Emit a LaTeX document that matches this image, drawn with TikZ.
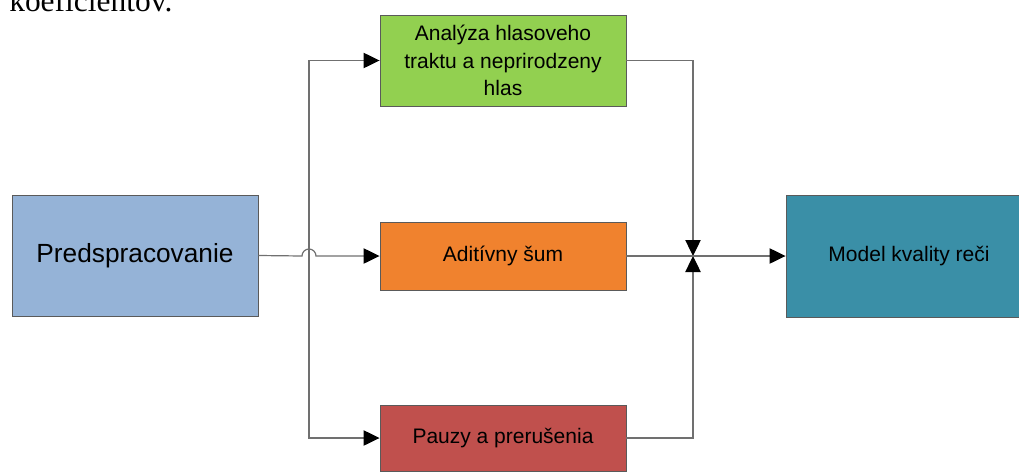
\documentclass[tikz,border=0pt]{standalone}
\usepackage{fontspec}
\setmainfont{Liberation Sans}
\newfontfamily\serifdoc{Liberation Serif}
\usetikzlibrary{arrows.meta}
\definecolor{cblue}{HTML}{95B3D7}
\definecolor{cgreen}{HTML}{92D050}
\definecolor{corange}{HTML}{F0822E}
\definecolor{cred}{HTML}{C0504D}
\definecolor{cteal}{HTML}{3A8FA7}
\definecolor{cborder}{HTML}{5A5A5A}
\definecolor{cline}{HTML}{707070}
\tikzset{
  blk/.style={draw=cborder, line width=0.7pt, inner sep=0pt, align=center,
    minimum width=184.5pt, font=\fontsize{15.75}{20.6}\selectfont},
  conn/.style={draw=cline, line width=0.9pt},
  arr/.style={conn, -{Triangle[length=12pt,width=11.5pt,color=black]}},
}
\begin{document}
\begin{tikzpicture}[x=0.75pt,y=-0.75pt]
\useasboundingbox (0,0) rectangle (1019,471);
\clip (0,0) rectangle (1019,471);
\node[anchor=base west, inner sep=0pt, font=\serifdoc\fontsize{23.6}{28}\selectfont] (txt) at (9,12) {koeficientov.};
\node[blk, fill=cblue, minimum height=90.75pt, font=\fontsize{19.7}{24}\selectfont] (pre) at (135,255.5) {Predspracovanie};
\node[blk, fill=cgreen, minimum height=68.25pt] (ana) at (503,60.5) {Analýza hlasoveho\\traktu a neprirodzeny\\hlas};
\node[blk, fill=corange, minimum height=51pt] (adi) at (503,256) {Aditívny šum};
\node[blk, fill=cred, minimum height=49.5pt] (pau) at (503,438) {Pauzy a prerušenia};
\node[blk, fill=cteal, minimum height=91.5pt] (mod) at (909,256) {Model kvality reči};
\coordinate (sp) at (309,256);
\coordinate (jn) at (693,256);
\draw[arr] (pre.east) -- (302,256) arc[start angle=180, end angle=0, radius=5.25pt] -- (adi.west);
\draw[arr] (sp) |- (ana.west);
\draw[arr] (sp) |- (pau.west);
\draw[arr] (ana.east) -| (jn);
\draw[arr] (pau.east) -| (jn);
\draw[conn] (adi.east) -- (jn);
\draw[arr] (jn) -- (mod.west);
\end{tikzpicture}
\end{document}
